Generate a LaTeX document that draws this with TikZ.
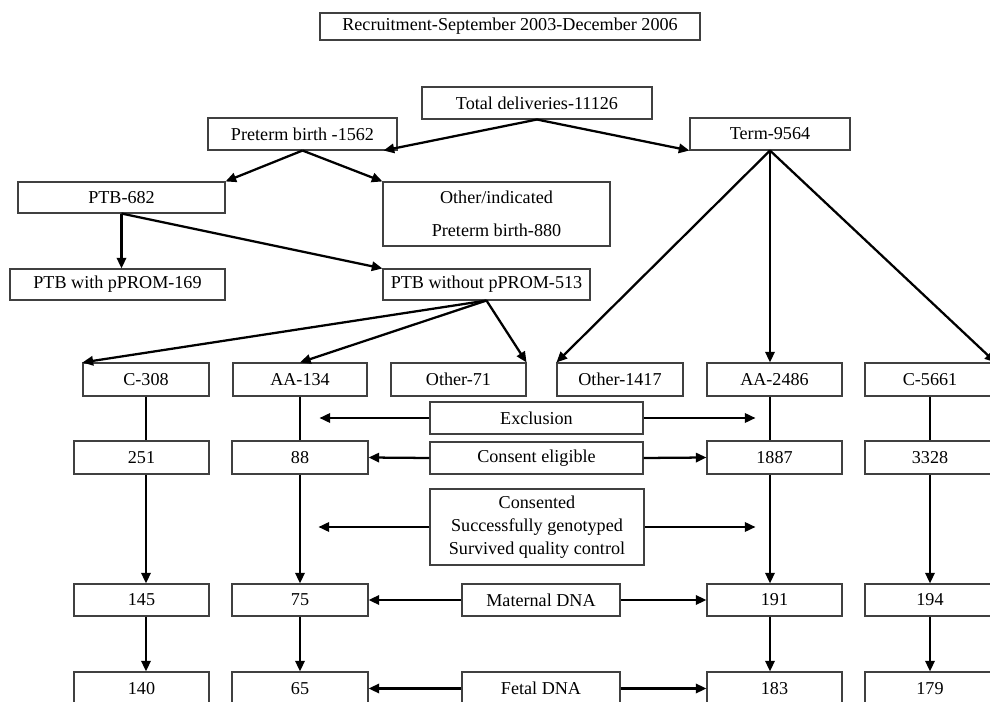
\documentclass[tikz,border=0pt]{standalone}
\usepackage{fontspec}
\setmainfont{Liberation Serif}
\usetikzlibrary{arrows.meta,calc}

% box from its corners: name, x1, y1, x2, y2, text (pixel-like units, y downwards)
\newcommand{\flowbox}[6]{%
  \node[box, minimum width={(#4-#2)*0.75pt}, minimum height={(#5-#3)*0.75pt}]
    (#1) at ({(#2+#4)/2},{(#3+#5)/2}) {#6};}

\tikzset{
  box/.style={draw=black!75, line width=0.8pt, inner sep=0pt, align=center,
              font=\fontsize{13.6}{17}\selectfont},
  arr/.style={line width=1.7pt, -{Triangle[length=8pt,width=7pt]}},
  ln/.style={line width=1.7pt},
}

\begin{document}
\begin{tikzpicture}[x=0.75pt,y=-0.75pt]
\useasboundingbox (0,0) rectangle (990,702);
\clip (0,0) rectangle (990,702);

% ---- boxes ----
\flowbox{title}{320}{13}{700}{40}{Recruitment-September 2003-December 2006}
\flowbox{tot}{422}{87}{652}{119}{Total deliveries-11126}
\flowbox{pre}{208}{118}{397}{150}{Preterm birth -1562}
\flowbox{term}{690}{118}{850}{150}{Term-9564}
\flowbox{ptb}{18}{182}{225}{213}{PTB-682}
\flowbox{oth}{383}{182}{610}{246}{Other/indicated\\[8pt]Preterm birth-880}
\flowbox{wp}{10}{269}{225}{300}{PTB with pPROM-169}
\flowbox{wop}{383}{269}{590}{300}{PTB without pPROM-513}

\flowbox{c1}{83}{363}{209}{396}{C-308}
\flowbox{a1}{233}{363}{367}{396}{AA-134}
\flowbox{o1}{391}{363}{526}{396}{Other-71}
\flowbox{o2}{557}{363}{683}{396}{Other-1417}
\flowbox{a2}{707}{363}{842}{396}{AA-2486}
\flowbox{c2}{865}{363}{995}{396}{C-5661}

\flowbox{excl}{430}{402}{643}{434}{Exclusion}

\flowbox{c1b}{74}{441}{209}{474}{251}
\flowbox{a1b}{232}{441}{368}{474}{88}
\flowbox{cel}{430}{442}{643}{474}{Consent eligible}
\flowbox{a2b}{707}{441}{842}{474}{1887}
\flowbox{c2b}{865}{441}{995}{474}{3328}

\flowbox{cons}{430}{489}{644}{565}{Consented\\Successfully genotyped\\Survived quality control}

\flowbox{c1c}{74}{584}{209}{616}{145}
\flowbox{a1c}{232}{584}{368}{616}{75}
\flowbox{mat}{462}{584}{620}{616}{Maternal DNA}
\flowbox{a2c}{707}{584}{842}{616}{191}
\flowbox{c2c}{865}{584}{995}{616}{194}

\flowbox{c1d}{74}{672}{209}{705}{140}
\flowbox{a1d}{232}{672}{368}{705}{65}
\flowbox{fet}{462}{672}{620}{705}{Fetal DNA}
\flowbox{a2d}{707}{672}{842}{705}{183}
\flowbox{c2d}{865}{672}{995}{705}{179}

% ---- free arrow ends ----
\coordinate (preIn) at ($(pre.south east)+(-14,0)$);
\coordinate (exL) at ($(excl.west)-(110,0)$);
\coordinate (exR) at ($(excl.east)+(112,0)$);
\coordinate (consL) at ($(cons.west)-(111,0)$);
\coordinate (consR) at ($(cons.east)+(111,0)$);

% ---- tree part ----
\draw[arr] (tot.south) -- (preIn);
\draw[arr] (tot.south) -- (term.south west);
\draw[arr] (pre.south) -- (ptb.north east);
\draw[arr] (pre.south) -- (oth.north west);
\draw[arr] (ptb.south) -- (ptb.south |- wp.north);
\draw[arr] (ptb.south) -- (wop.north west);
\draw[arr] (wop.south) -- (c1.north west);
\draw[arr] (wop.south) -- (a1.north);
\draw[arr] (wop.south) -- (o1.north east);
\draw[arr] (term.south) -- (o2.north west);
\draw[arr] (term.south) -- (term.south |- a2.north);
\draw[arr] (term.south) -- (c2.north east);

% ---- columns ----
\foreach \top/\b/\c/\d in {c1/c1b/c1c/c1d, a1/a1b/a1c/a1d, c2/c2b/c2c/c2d}{
  \draw[ln]  (\top.south) -- (\top.south |- \b.north);
  \draw[arr] (\top.south |- \b.south) -- (\top.south |- \c.north);
  \draw[arr] (\top.south |- \c.south) -- (\top.south |- \d.north);
}
\draw[ln]  (term.south |- a2.south) -- (term.south |- a2b.north);
\draw[arr] (term.south |- a2b.south) -- (term.south |- a2c.north);
\draw[arr] (term.south |- a2c.south) -- (term.south |- a2d.north);

% ---- side arrows ----
\draw[arr] (excl.west) -- (exL);
\draw[arr] (excl.east) -- (exR);
\draw[arr] (cel.west) -- (a1b.east);
\draw[arr] (cel.east) -- (a2b.west);
\draw[arr] (cons.west) -- (consL);
\draw[arr] (cons.east) -- (consR);
\draw[arr] (mat.west) -- (a1c.east);
\draw[arr] (mat.east) -- (a2c.west);
\draw[arr] (fet.west) -- (a1d.east);
\draw[arr] (fet.east) -- (a2d.west);
\end{tikzpicture}
\end{document}
